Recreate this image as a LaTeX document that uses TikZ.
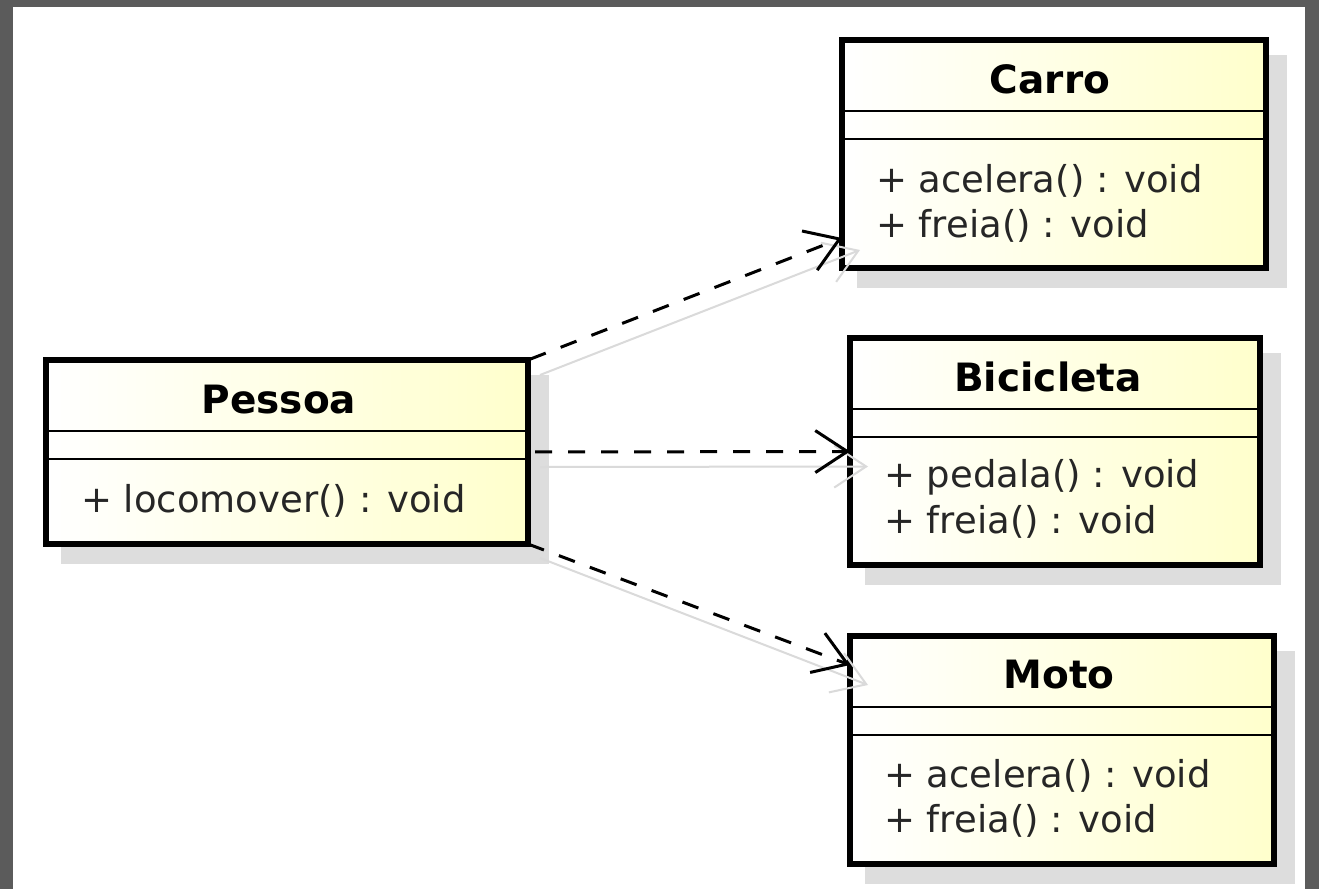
\documentclass[tikz,border=0pt]{standalone}
\usepackage{fontspec}
\setmainfont{DejaVu Sans}
\usetikzlibrary{arrows.meta,backgrounds}

\definecolor{framegray}{HTML}{5B5B5B}
\definecolor{classfill}{HTML}{FFFFCC}
\definecolor{shadowgray}{HTML}{DDDDDD}
\definecolor{linkshadow}{HTML}{DADADA}

\begin{document}
\begin{tikzpicture}[x=1pt,y=-1pt,
  classbox/.style={draw=black, line width=6pt, left color=white, right color=classfill,
                   inner sep=0pt, outer sep=0pt},
  classname/.style={font=\fontsize{39}{46}\selectfont\bfseries, inner sep=0pt, anchor=base},
  member/.style={font=\fontsize{37}{44}\selectfont, inner sep=0pt, anchor=base west, text=black!85},
  divider/.style={line width=2pt},
  boxshadow/.style={fill=shadowgray},
  dep/.style={line width=3pt, dash pattern=on 17pt off 16pt,
              -{Straight Barb[length=32pt,width=42pt,line width=3pt]}},
  depshadow/.style={line width=2pt, draw=linkshadow,
              -{Straight Barb[length=32pt,width=42pt,line width=2pt]}}
]
\useasboundingbox (0,0) rectangle (1319,889);

% class boxes
\node[classbox, minimum width=482pt, minimum height=184pt] (pessoa)    at (287,452)    {};
\node[classbox, minimum width=424pt, minimum height=228pt] (carro)     at (1054,154)   {};
\node[classbox, minimum width=410pt, minimum height=227pt] (bicicleta) at (1055,451.5) {};
\node[classbox, minimum width=424pt, minimum height=228pt] (moto)      at (1062,750)   {};

% compartments and texts
\foreach \c in {pessoa,carro,bicicleta,moto}{
  \draw[divider] ([yshift=-71pt]\c.north west) -- ([yshift=-71pt]\c.north east);
  \draw[divider] ([yshift=-99pt]\c.north west) -- ([yshift=-99pt]\c.north east);
}
\node[classname] (pessoaName)    at ([shift={(-8pt,-53pt)}]pessoa.north)  {Pessoa};
\node[classname] (carroName)     at ([shift={(-4pt,-53pt)}]carro.north)   {Carro};
\node[classname] (bicicletaName) at ([shift={(-7pt,-53pt)}]bicicleta.north) {Bicicleta};
\node[classname] (motoName)      at ([shift={(-3pt,-52pt)}]moto.north)    {Moto};

\node[member] (pessoaOp1)    at ([shift={(35pt,-152pt)}]pessoa.north west)    {+ locomover() : void};
\node[member] (carroOp1)     at ([shift={(34pt,-152pt)}]carro.north west)     {+ acelera() : void};
\node[member] (carroOp2)     at ([shift={(34pt,-197pt)}]carro.north west)     {+ freia() : void};
\node[member] (bicicletaOp1) at ([shift={(34pt,-149pt)}]bicicleta.north west) {+ pedala() : void};
\node[member] (bicicletaOp2) at ([shift={(34pt,-195pt)}]bicicleta.north west) {+ freia() : void};
\node[member] (motoOp1)      at ([shift={(34pt,-151pt)}]moto.north west)      {+ acelera() : void};
\node[member] (motoOp2)      at ([shift={(34pt,-196pt)}]moto.north west)      {+ freia() : void};

% window frame and drop shadows
\begin{scope}[on background layer]
  \fill[framegray] (0,0) rectangle (1319,889);
  \fill[white] (13,7) rectangle (1305,889);
  \foreach \c in {pessoa,carro,bicicleta,moto}{
    \fill[boxshadow] ([shift={(15pt,-15pt)}]\c.north west) rectangle ([shift={(21pt,-20pt)}]\c.south east);
  }
\end{scope}

% connector shadows
\draw[depshadow] ([shift={(12pt,-15pt)}]pessoa.north east) -- ([shift={(18pt,18pt)}]carro.south west);
\draw[depshadow] ([shift={(12pt,-15pt)}]pessoa.east) -- ([shift={(18pt,-15pt)}]bicicleta.west);
\draw[depshadow] ([shift={(12pt,-14pt)}]pessoa.south east) -- ([shift={(18pt,-49pt)}]moto.north west);

% dependencies
\draw[dep, shorten <=2pt] (pessoa.north east) -- ([yshift=30pt]carro.south west);
\draw[dep, shorten <=7pt] (pessoa.east) -- (bicicleta.west);
\draw[dep] (pessoa.south east) -- ([yshift=-29pt]moto.north west);
\end{tikzpicture}
\end{document}
